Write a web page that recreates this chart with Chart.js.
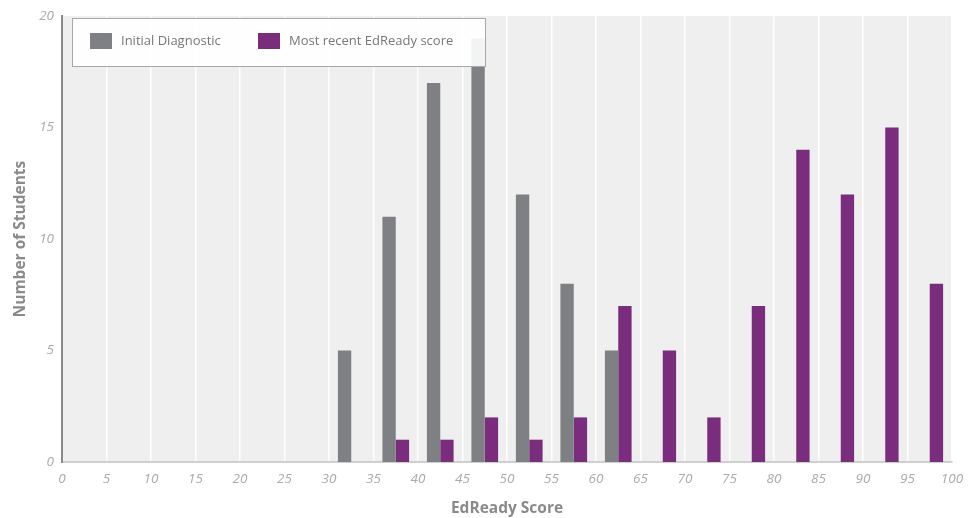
<!DOCTYPE html>
<html>
<head>
<meta charset="utf-8">
<script src="https://cdn.jsdelivr.net/npm/chart.js@4/dist/chart.umd.min.js"></script>
<style>
  html, body { margin: 0; padding: 0; background: #ffffff; }
  #wrap { width: 980px; height: 518px; }
</style>
</head>
<body>
<div id="wrap"><canvas id="scoreChart"></canvas></div>
<script>
// === Chart Data ===
const binCenters = [2.5, 7.5, 12.5, 17.5, 22.5, 27.5, 32.5, 37.5, 42.5, 47.5,
                    52.5, 57.5, 62.5, 67.5, 72.5, 77.5, 82.5, 87.5, 92.5, 97.5];
const initialDiagnostic = [0, 0, 0, 0, 0, 0, 5, 11, 17, 19, 12, 8, 5, 0, 0, 0, 0, 0, 0, 0];
const mostRecentScore   = [0, 0, 0, 0, 0, 0, 0, 1, 1, 2, 1, 2, 7, 5, 2, 7, 14, 12, 15, 8];
const xTicks = [0, 5, 10, 15, 20, 25, 30, 35, 40, 45, 50, 55, 60, 65, 70, 75, 80, 85, 90, 95, 100];
const yTicks = [0, 5, 10, 15, 20];

const GRAY = "#7f8083";
const PURPLE = "#7b2d7d";
const labelFont = "'Open Sans', Lato, sans-serif";

function toPoints(values) {
  return binCenters.map((x, i) => ({ x: x, y: values[i] }));
}

// plot background
const plotBg = {
  id: "plotBg",
  beforeDraw(chart) {
    const a = chart.chartArea;
    const ctx = chart.ctx;
    ctx.save();
    ctx.fillStyle = "#efefef";
    ctx.fillRect(a.left, a.top, a.right - a.left, a.bottom - a.top);
    ctx.restore();
  }
};

// boxed legend drawn over the bars
const boxLegend = {
  id: "boxLegend",
  afterDatasetsDraw(chart) {
    const ctx = chart.ctx;
    ctx.save();
    ctx.fillStyle = "rgba(255,255,255,0.9)";
    ctx.fillRect(72, 18, 413, 48);
    ctx.strokeStyle = "#a8a8a8";
    ctx.lineWidth = 1;
    ctx.strokeRect(72.5, 18.5, 413, 48);

    const items = chart.data.datasets;
    const xs = [90, 258];
    ctx.font = "13px " + labelFont;
    ctx.textBaseline = "middle";
    items.forEach((ds, i) => {
      ctx.fillStyle = ds.backgroundColor;
      ctx.fillRect(xs[i], 33, 22, 16);
      ctx.fillStyle = "#777777";
      ctx.fillText(ds.label, xs[i] + 31, 41);
    });
    ctx.restore();
  }
};

// === Build Chart ===
const ctx = document.getElementById("scoreChart").getContext("2d");
new Chart(ctx, {
  type: "bar",
  data: {
    datasets: [
      { label: "Initial Diagnostic", data: toPoints(initialDiagnostic), backgroundColor: GRAY },
      { label: "Most recent EdReady score", data: toPoints(mostRecentScore), backgroundColor: PURPLE }
    ]
  },
  options: {
    responsive: true,
    maintainAspectRatio: false,
    animation: false,
    layout: { padding: { top: 10, right: 28, left: 11, bottom: 0 } },
    datasets: {
      bar: { barPercentage: 1.0, categoryPercentage: 0.6 }
    },
    scales: {
      x: {
        type: "linear",
        min: 0,
        max: 100,
        offset: false,
        afterBuildTicks: axis => { axis.ticks = xTicks.map(v => ({ value: v })); },
        afterFit: axis => { axis.height = 56; },
        grid: { color: "#ffffff", lineWidth: 1.5, drawTicks: false, offset: false },
        border: { display: true, color: "#cfcfcf", width: 2 },
        ticks: {
          color: "#aaaaaa",
          padding: 9,
          font: { family: labelFont, size: 13.5, style: "italic" }
        },
        title: {
          display: true,
          text: "EdReady Score",
          color: "#8a8a8a",
          padding: { top: 2, bottom: 0 },
          font: { family: labelFont, size: 15.5, weight: "bold" }
        }
      },
      y: {
        min: 0,
        max: 20,
        afterBuildTicks: axis => { axis.ticks = yTicks.map(v => ({ value: v })); },
        afterFit: axis => { axis.width = 51; },
        grid: { display: false, drawTicks: false },
        border: { display: true, color: "#8a8a8a", width: 2 },
        ticks: {
          color: "#aaaaaa",
          padding: 8,
          font: { family: labelFont, size: 13.5, style: "italic" }
        },
        title: {
          display: true,
          text: "Number of Students",
          color: "#8a8a8a",
          padding: { top: 0, bottom: 6 },
          font: { family: labelFont, size: 15.5, weight: "bold" }
        }
      }
    },
    plugins: {
      legend: { display: false },
      tooltip: { enabled: false }
    }
  },
  plugins: [plotBg, boxLegend]
});
</script>
</body>
</html>
